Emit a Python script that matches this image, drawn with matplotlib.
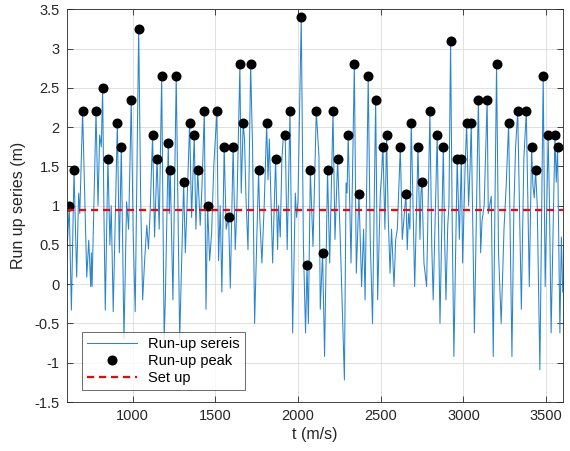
import numpy as np
import matplotlib.pyplot as plt
from matplotlib.ticker import FuncFormatter

plt.rcParams['font.family'] = ['Liberation Sans', 'DejaVu Sans']

# run-up peaks (t, value)
peak_t = [616, 645, 697, 778, 818, 850, 907, 931, 991, 1036,
          1120, 1147, 1175, 1215, 1227, 1263, 1308, 1344, 1372, 1393,
          1433, 1453, 1509, 1553, 1580, 1607, 1648, 1668, 1713, 1761,
          1810, 1864, 1922, 1951, 2019, 2054, 2074, 2110, 2148, 2178,
          2211, 2239, 2303, 2340, 2368, 2424, 2469, 2513, 2535, 2618,
          2652, 2684, 2725, 2749, 2797, 2841, 2878, 2922, 2962, 2987,
          3019, 3047, 3090, 3143, 3200, 3273, 3328, 3380, 3412, 3436,
          3482, 3512, 3553, 3569]
peak_v = [1.0, 1.45, 2.2, 2.2, 2.5, 1.6, 2.05, 1.75, 2.35, 3.25,
          1.9, 1.6, 2.65, 1.8, 1.45, 2.65, 1.3, 2.05, 1.9, 1.45,
          2.2, 1.0, 2.2, 1.75, 0.85, 1.75, 2.8, 2.05, 2.8, 1.45,
          2.05, 1.6, 1.9, 2.2, 3.4, 0.25, 1.45, 2.2, 0.4, 1.45,
          2.2, 1.6, 1.9, 2.8, 1.15, 2.65, 2.35, 1.75, 1.9, 1.75,
          1.15, 2.05, 1.75, 1.3, 2.2, 1.9, 1.75, 3.1, 1.6, 1.6,
          2.05, 2.05, 2.35, 2.35, 2.8, 2.05, 2.2, 2.2, 1.75, 1.45,
          2.65, 1.9, 1.9, 1.75]

# run-up samples between the peaks
mid_t = [600, 629, 661, 673, 680, 722, 734, 746, 750, 754,
         790, 800, 810, 826, 834, 862, 870, 882, 895, 919,
         947, 963, 975, 1003, 1015, 1048, 1060, 1072, 1085, 1095,
         1105, 1132, 1160, 1190, 1197, 1221, 1243, 1284, 1318, 1328,
         1356, 1382, 1408, 1418, 1443, 1465, 1477, 1490, 1519, 1529,
         1539, 1565, 1590, 1620, 1630, 1656, 1676, 1685, 1697, 1725,
         1737, 1768, 1781, 1795, 1818, 1826, 1834, 1846, 1876, 1882,
         1892, 1902, 1910, 1934, 1967, 1983, 1991, 1999, 2032, 2045,
         2062, 2090, 2126, 2134, 2160, 2191, 2223, 2255, 2280, 2290,
         2296, 2320, 2352, 2384, 2396, 2405, 2436, 2450, 2481, 2497,
         2505, 2525, 2545, 2556, 2565, 2580, 2590, 2600, 2630, 2660,
         2668, 2676, 2695, 2705, 2737, 2743, 2761, 2777, 2808, 2817,
         2858, 2886, 2894, 2905, 2912, 2932, 2942, 2975, 2995, 3010,
         3031, 3040, 3060, 3066, 3104, 3112, 3125, 3150, 3168, 3180,
         3212, 3228, 3245, 3258, 3293, 3305, 3315, 3350, 3365, 3398,
         3420, 3428, 3446, 3462, 3494, 3520, 3530, 3542, 3561, 3583,
         3592, 3600]
mid_v = [0.3, -0.33, 0.09, 1.16, 0.9, 0.09, 0.56, -0.03, 0.4, -0.03,
         1.0, 1.9, 1.75, 0.9, -0.33, 0.5, 1.0, -0.35, 0.9, 0.4,
         -0.7, 1.05, 0.7, 0.6, -0.35, 1.1, -0.2, 0.3, 0.75, 0.45,
         0.9, 0.6, 0.7, -0.7, -0.2, 0.9, -0.2, -0.7, 0.4, 1.0,
         0.85, 0.7, 0.75, 1.2, -0.32, 0.3, 0.65, 1.5, 0.3, 1.0,
         -0.1, 0.7, -0.05, 0.44, 1.0, 1.16, 1.84, 1.08, 0.44, 1.7,
         -0.5, 0.86, 0.27, 1.0, 1.33, 1.85, 1.2, 0.27, 0.44, 1.0,
         0.6, 1.6, 1.85, 0.44, -0.62, 1.16, 0.85, 1.05, 0.5, -0.62,
         -0.5, 0.48, 1.63, -0.32, -0.92, 0.27, 0.57, 0.57, -1.22, 1.29,
         1.16, 0.27, 0.14, -0.03, 0.7, -0.2, 0.57, -0.5, -0.2, 1.16,
         1.4, 0.7, 0.85, 0.14, 0.7, -0.03, 0.57, 0.7, 0.57, 0.44,
         0.9, 0.7, 1.0, -0.03, 0.57, 1.16, 0.27, -0.03, 0.5, -0.2,
         -0.5, 0.6, -0.2, 0.75, 1.0, 0.75, -0.92, 0.57, 0.27, 1.5,
         1.0, 1.5, 0.2, -0.62, 0.4, 0.8, 1.0, 0.9, 1.12, -0.92,
         0.4, -0.5, 0.7, 1.25, -0.92, 1.0, 1.74, -0.32, 1.6, -0.03,
         1.25, 1.1, 1.0, -1.09, -0.03, 1.0, -0.62, 0.7, 1.3, -0.62,
         0.6, -0.1]

setup_level = 0.95

# merge peaks and in-between samples into one time series
t_all = np.array(peak_t + mid_t, dtype=float)
v_all = np.array(peak_v + mid_v, dtype=float)
order = np.argsort(t_all, kind='stable')
t_all, v_all = t_all[order], v_all[order]

fig = plt.figure(figsize=(5.7, 4.51), dpi=100)
ax = fig.add_axes([0.1168, 0.1086, 0.8704, 0.8708])

ax.plot(t_all, v_all, color='#2a85cc', lw=0.75, label='Run-up sereis')
ax.plot(peak_t, peak_v, 'o', color='black', ms=6.2, label='Run-up peak')
ax.axhline(setup_level, color='#FF0000', ls=(0, (3.2, 2.2)), lw=1.6, label='Set up')

ax.set_xlim(600, 3600)
ax.set_ylim(-1.5, 3.5)
ax.set_xticks([1000, 1500, 2000, 2500, 3000, 3500])
ax.set_yticks(np.arange(-1.5, 3.51, 0.5))
ax.yaxis.set_major_formatter(FuncFormatter(lambda v, p: f'{v:g}'))

ax.grid(True, color='#dcdcdc', lw=0.6)
ax.set_axisbelow(True)
for s in ax.spines.values():
    s.set_color('#262626')
    s.set_linewidth(0.6)
ax.tick_params(direction='in', top=True, right=True, length=4, width=0.6,
               colors='#262626', labelsize=10.5, pad=5)

ax.set_xlabel('t (m/s)', fontsize=11.5, color='#262626', labelpad=3)
ax.set_ylabel('Run up series (m)', fontsize=11.5, color='#262626', labelpad=6)

leg = ax.legend(loc='lower left', bbox_to_anchor=(0.031, 0.031), borderaxespad=0,
                fontsize=10.5, frameon=True, fancybox=False, edgecolor='#262626',
                handlelength=3.4, handletextpad=0.8, borderpad=0.35, labelspacing=0.2)
leg.get_frame().set_linewidth(0.6)

fig.savefig('out.png', dpi=100)
